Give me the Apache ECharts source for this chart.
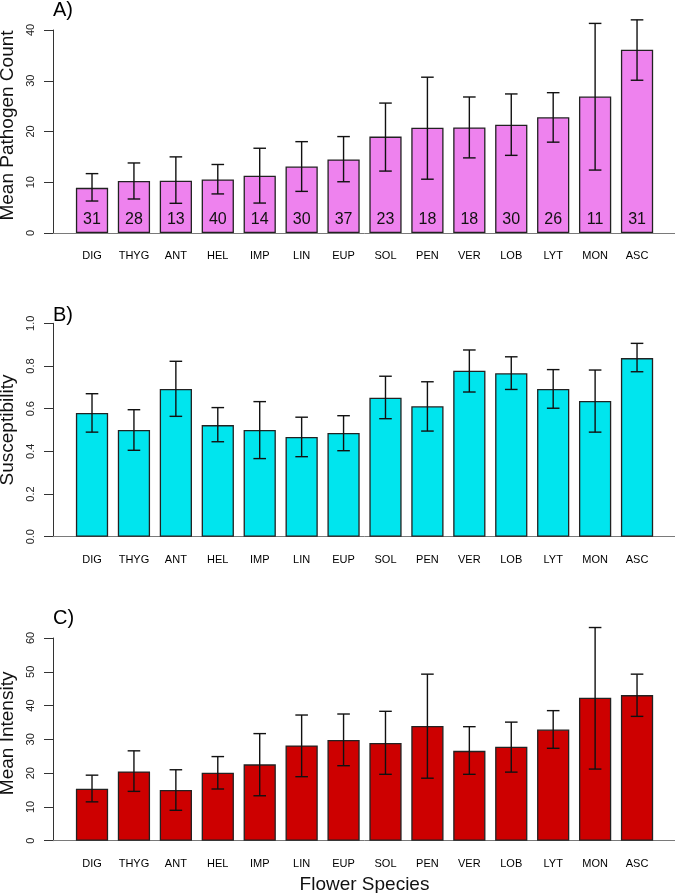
<!DOCTYPE html>
<html>
<head>
<meta charset="utf-8">
<script src="https://cdn.jsdelivr.net/npm/echarts@6/dist/echarts.min.js"></script>
<style>html,body{margin:0;padding:0;background:#fff}#c{width:675px;height:893px}</style>
</head>
<body>
<div id="c"></div>
<script>
const categories = ['DIG','THYG','ANT','HEL','IMP','LIN','EUP','SOL','PEN','VER','LOB','LYT','MON','ASC'];

const countMean = [8.9,10.25,10.3,10.55,11.3,13.1,14.5,19.0,20.75,20.8,21.35,22.8,26.9,36.1];
const countLow  = [6.3,6.7,5.85,7.7,5.9,8.2,10.1,12.2,10.6,14.8,15.3,17.9,12.4,30.1];
const countHigh = [11.7,13.8,15.0,13.5,16.7,18.0,19.0,25.6,30.7,26.8,27.4,27.65,41.3,42.0];
const sampleN   = [31,28,13,40,14,30,37,23,18,18,30,26,11,31];

const suscMean = [0.58,0.50,0.692,0.523,0.50,0.467,0.486,0.651,0.611,0.778,0.766,0.692,0.636,0.837];
const suscLow  = [0.49,0.405,0.564,0.445,0.366,0.375,0.403,0.553,0.495,0.678,0.69,0.602,0.49,0.773];
const suscHigh = [0.67,0.595,0.822,0.605,0.633,0.56,0.567,0.752,0.726,0.875,0.843,0.783,0.781,0.906];

const intMean = [15.4,20.5,15.0,20.1,22.6,28.2,29.8,28.9,33.95,26.6,27.8,32.9,42.3,43.1];
const intLow  = [11.5,14.6,9.0,15.3,13.3,18.95,22.2,19.65,18.5,19.65,20.3,27.35,21.2,36.8];
const intHigh = [19.4,26.6,21.0,24.9,31.7,37.2,37.5,38.3,49.3,33.75,35.1,38.5,63.1,49.3];

const panelTitles = ['A)','B)','C)'];
const yNames = ['Mean Pathogen Count','Susceptibility','Mean Intensity'];
const yMax = [40, 1.0, 60];
const yInterval = [10, 0.2, 10];
const xName = 'Flower Species';

const FONT = '"Liberation Sans", Arial, Helvetica, sans-serif';
const colors = ['#EE82EE', '#00E5EE', '#CD0000'];
const panels = [
  {mean: countMean, low: countLow, high: countHigh, labels: sampleN, top: 30, height: 203, titleTop: 0.5, namePad: [0,0,0,12]},
  {mean: suscMean, low: suscLow, high: suscHigh, labels: null, top: 323.3, height: 213.4, titleTop: 305.5, namePad: 0},
  {mean: intMean, low: intLow, high: intHigh, labels: null, top: 638, height: 202.7, titleTop: 608.5, namePad: [0,0,0,12]}
];

const grid = [], xAxis = [], yAxis = [], series = [], title = [];
panels.forEach((p, k) => {
  const wide = 2 * k, narrow = 2 * k + 1;
  grid.push({left: 53, width: 623, top: p.top, height: p.height, containLabel: false, outerBoundsMode: 'none'});
  grid.push({left: 71.05, width: 586.95, top: p.top, height: p.height, containLabel: false, outerBoundsMode: 'none'});
  title.push({text: panelTitles[k], left: 53, top: p.titleTop, padding: 0,
    textStyle: {fontFamily: FONT, fontSize: 20, fontWeight: 'normal', color: '#000'}});
  xAxis.push({type: 'value', gridIndex: wide, min: 0, max: 1,
    axisLine: {show: true, lineStyle: {color: '#7a7a7a', width: 1}},
    axisTick: {show: false}, axisLabel: {show: false}, splitLine: {show: false},
    name: k === 2 ? xName : '', nameLocation: 'middle', nameGap: 35,
    nameTextStyle: {fontFamily: FONT, fontSize: 19, color: '#111'}});
  yAxis.push({type: 'value', gridIndex: wide, min: 0, max: yMax[k], interval: yInterval[k],
    axisLine: {show: true, lineStyle: {color: '#333', width: 1}},
    axisTick: {show: true, length: 9, lineStyle: {color: '#333', width: 1}},
    axisLabel: {rotate: 90, margin: 17, fontFamily: FONT, fontSize: 11, color: '#222',
      formatter: v => k === 1 ? v.toFixed(1) : String(v)},
    splitLine: {show: false},
    name: yNames[k], nameLocation: 'middle', nameGap: 34, nameRotate: 90,
    nameTextStyle: {fontFamily: FONT, fontSize: 19, color: '#111', padding: p.namePad}});
  xAxis.push({type: 'category', gridIndex: narrow, data: categories,
    axisLine: {show: false}, axisTick: {show: false},
    axisLabel: {margin: 17.5, fontFamily: FONT, fontSize: 11, color: '#000', interval: 0}});
  yAxis.push({type: 'value', gridIndex: narrow, min: 0, max: yMax[k], show: false});
  series.push({type: 'bar', xAxisIndex: narrow, yAxisIndex: narrow, data: p.mean,
    barWidth: '76.9%',
    itemStyle: {color: colors[k], borderColor: '#222', borderWidth: 1.3},
    label: p.labels ? {show: true, position: 'insideBottom', distance: 5,
      fontFamily: FONT, fontSize: 16, color: '#111',
      formatter: prm => String(p.labels[prm.dataIndex])} : {show: false},
    z: 2});
  series.push({type: 'custom', xAxisIndex: narrow, yAxisIndex: narrow, clip: false, z: 5,
    data: categories.map((c, i) => [i, p.low[i], p.high[i]]),
    renderItem: (params, api) => {
      const x = api.value(0);
      const a = api.coord([x, api.value(1)]);
      const b = api.coord([x, api.value(2)]);
      const hw = 6.3;
      const st = {stroke: '#111', lineWidth: 1.4};
      return {type: 'group', children: [
        {type: 'line', shape: {x1: a[0], y1: a[1], x2: b[0], y2: b[1]}, style: st},
        {type: 'line', shape: {x1: a[0] - hw, y1: a[1], x2: a[0] + hw, y2: a[1]}, style: st},
        {type: 'line', shape: {x1: b[0] - hw, y1: b[1], x2: b[0] + hw, y2: b[1]}, style: st}
      ]};
    }});
});

const chart = echarts.init(document.getElementById('c'), null, {renderer: 'canvas'});
chart.setOption({animation: false, backgroundColor: '#fff', title, grid, xAxis, yAxis, series});
</script>
</body>
</html>
